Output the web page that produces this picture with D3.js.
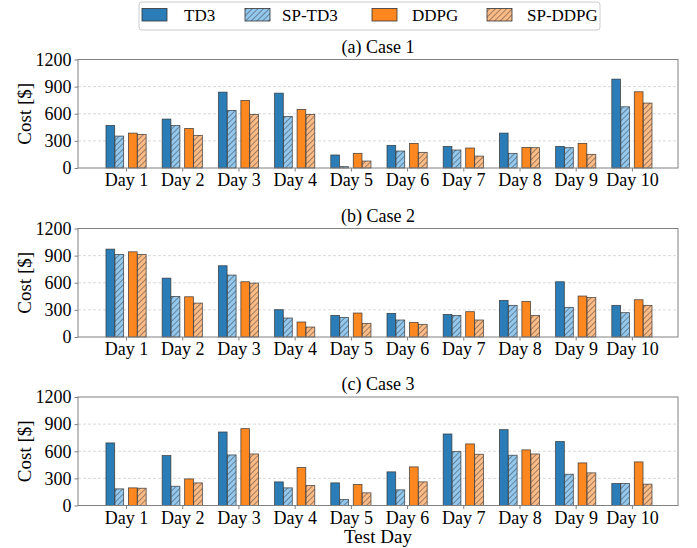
<!DOCTYPE html>
<html><head><meta charset="utf-8">
<script src="https://cdn.jsdelivr.net/npm/d3@7"></script>
<style>body{margin:0;background:#fff}svg{display:block}</style>
</head><body><svg id="c" width="697" height="548"></svg>
<script>
const days = ["Day 1","Day 2","Day 3","Day 4","Day 5","Day 6","Day 7","Day 8","Day 9","Day 10"];
const seriesNames = ["TD3","SP-TD3","DDPG","SP-DDPG"];
const panelTitles = ["(a) Case 1","(b) Case 2","(c) Case 3"];
const yTicks = [0,300,600,900,1200];
// Case 1
const case1TD3   = [471,541,839,828,144,250,239,386,239,983];
const case1SPTD3 = [353,471,637,570,15,188,199,162,225,677];
const case1DDPG  = [386,438,747,648,162,272,221,228,272,843];
const case1SPDDPG= [372,361,593,593,77,173,132,225,151,718];
// Case 2
const case2TD3   = [972,651,788,302,239,261,250,405,611,350];
const case2SPTD3 = [913,449,685,210,217,188,239,350,328,269];
const case2DDPG  = [942,445,611,166,265,162,280,394,453,412];
const case2SPDDPG= [913,375,596,110,151,140,188,239,438,350];
// Case 3
const case3TD3   = [692,552,813,261,250,372,791,839,707,243];
const case3SPTD3 = [184,213,559,195,66,173,596,556,346,243];
const case3DDPG  = [195,294,850,420,232,427,681,615,471,482];
const case3SPDDPG= [191,250,570,221,140,261,567,570,361,236];

const cases = [
  [case1TD3,case1SPTD3,case1DDPG,case1SPDDPG],
  [case2TD3,case2SPTD3,case2DDPG,case2SPDDPG],
  [case3TD3,case3SPTD3,case3DDPG,case3SPDDPG]
];

const FONT = '"Liberation Serif"';
const fills = ["#2a7db7","url(#hb)","#ff8720","url(#ho)"];
const offsets = [-0.28,-0.12,0.12,0.28];
const bw = 0.155;

const svg = d3.select("#c");
const defs = svg.append("defs");
function hatch(id, bg){
  const p = defs.append("pattern").attr("id",id).attr("patternUnits","userSpaceOnUse")
    .attr("width",4).attr("height",4).attr("patternTransform","rotate(45)");
  p.append("rect").attr("width",4).attr("height",4).attr("fill",bg);
  p.append("line").attr("x1",0).attr("y1",0).attr("x2",0).attr("y2",4)
    .attr("stroke","#2b2b2b").attr("stroke-width",0.9);
}
hatch("hb","#93c8ef");
hatch("ho","#fdbb86");

const left = 78, right = 678;
const x = d3.scaleLinear().domain([-0.855, 9.82]).range([left, right]);
const panelTops = [59.5, 228.5, 397];
const ph = 108.5;

panelTops.forEach((top, pi) => {
  const y = d3.scaleLinear().domain([0,1200]).range([top+ph, top]);
  const g = svg.append("g");
  g.selectAll("line.grid").data([300,600,900]).enter().append("line")
    .attr("x1",left).attr("x2",right).attr("y1",d=>y(d)).attr("y2",d=>y(d))
    .attr("stroke","#cfcfcf").attr("stroke-width",0.8).attr("stroke-dasharray","3,2");
  cases[pi].forEach((vals, si) => {
    g.selectAll(null).data(vals).enter().append("rect")
      .attr("x",(d,i)=>x(i+offsets[si]-bw/2))
      .attr("width",x(bw)-x(0))
      .attr("y",d=>y(d)).attr("height",d=>y(0)-y(d))
      .attr("fill",fills[si]).attr("stroke","#333").attr("stroke-width",0.8).attr("stroke-opacity",0.85);
  });
  const ya = d3.axisLeft(y).tickValues(yTicks).tickFormat(d3.format("d")).tickSize(3.5).tickPadding(3);
  const yg = g.append("g").attr("transform",`translate(${left},0)`).call(ya);
  const xa = d3.axisBottom(x).tickValues(d3.range(10)).tickFormat(i=>days[i]).tickSize(3.5).tickPadding(2);
  const xg = g.append("g").attr("transform",`translate(0,${top+ph})`).call(xa);
  [yg,xg].forEach(a=>{
    a.select(".domain").remove();
    a.selectAll(".tick line").attr("stroke","#808080");
    a.selectAll(".tick text").attr("fill","#000").style("font-family",FONT).style("font-size","18px");
  });
  g.append("rect").attr("x",left).attr("y",top).attr("width",right-left).attr("height",ph)
    .attr("fill","none").attr("stroke","#808080").attr("stroke-width",1);
  g.append("text").attr("x",(left+right)/2).attr("y",top-7).attr("text-anchor","middle")
    .style("font-family",FONT).style("font-size","18px").text(panelTitles[pi]);
  g.append("text").attr("transform",`translate(31,${top+ph/2}) rotate(-90)`).attr("text-anchor","middle")
    .style("font-family",FONT).style("font-size","19px").text("Cost [$]");
});

svg.append("text").attr("x",(left+right)/2).attr("y",543).attr("text-anchor","middle")
  .style("font-family",FONT).style("font-size","19px").text("Test Day");

const lg = svg.append("g");
lg.append("rect").attr("x",139).attr("y",2).attr("width",461).attr("height",28).attr("rx",3)
  .attr("fill","#fff").attr("stroke","#cccccc").attr("stroke-width",1);
const lx = [142,245,372,487];
const tx = [184,282,412,527];
seriesNames.forEach((n,i)=>{
  lg.append("rect").attr("x",lx[i]).attr("y",8.5).attr("width",25).attr("height",12.5)
    .attr("fill",fills[i]).attr("stroke","#333").attr("stroke-width",0.8);
  lg.append("text").attr("x",tx[i]).attr("y",21).style("font-family",FONT).style("font-size","17px").text(n);
});
</script></body></html>
